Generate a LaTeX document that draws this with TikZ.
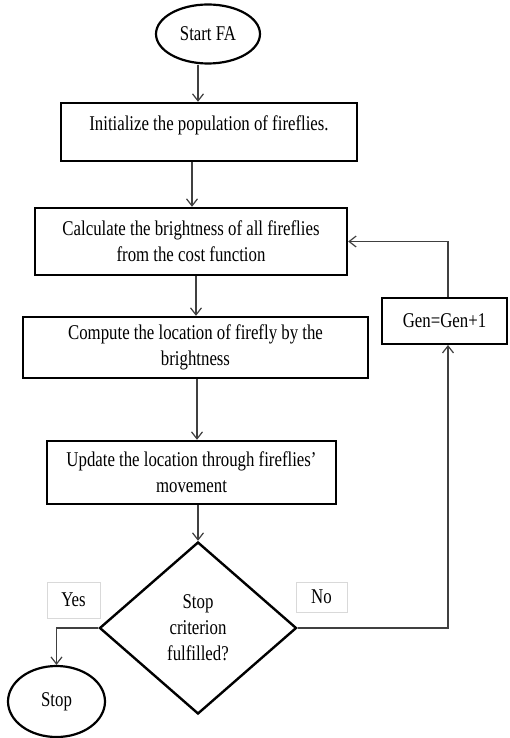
\documentclass[tikz,border=0pt]{standalone}
\usepackage{fontspec}
\setmainfont{Liberation Serif}[FakeStretch=0.8]
\usetikzlibrary{shapes.geometric,arrows.meta,calc}
\begin{document}
\begin{tikzpicture}[x=1pt,y=-1pt,
  txt/.style={font=\fontsize{21}{26}\selectfont},
  box/.style={txt,draw=black,line width=2.4pt,rectangle,inner sep=0pt,align=center},
  term/.style={txt,draw=black,ellipse,line width=2.2pt,inner sep=0pt},
  decision/.style={txt,draw=black,diamond,line width=2.4pt,inner sep=0pt,align=center},
  lab/.style={txt,draw=black!15,line width=0.8pt,inner sep=0pt},
  arr/.style={draw=black!75,line width=1.2pt,-{Straight Barb[length=7pt,width=11pt]}}]
\useasboundingbox (0,0) rectangle (509,738);
\node[term,minimum width=104pt,minimum height=59pt] (start) at (208,34) {Start FA};
\node[box,minimum width=296pt,minimum height=58pt] (init) at (209,132) {Initialize the population of fireflies.\\[-8pt]\mbox{}};
\node[box,minimum width=312pt,minimum height=67pt] (calc) at (191,241.5) {Calculate the brightness of all fireflies\\from the cost function};
\node[box,minimum width=345pt,minimum height=61pt] (comp) at (195.5,347.5) {Compute the location of firefly by the\\brightness};
\node[box,minimum width=289pt,minimum height=63pt] (upd) at (191.5,472.5) {Update the location through fireflies’\\movement};
\node[decision,minimum width=197pt,minimum height=172pt] (dec) at (198,628) {Stop\\criterion\\fulfilled?};
\node[lab,minimum width=53pt,minimum height=36pt] (yes) at (73.5,600) {Yes};
\node[lab,minimum width=51pt,minimum height=30pt] (no) at (321.5,597) {No};
\node[term,minimum width=97pt,minimum height=71pt] (stop) at (56.5,701.5) {Stop};
\node[box,line width=2pt,minimum width=125pt,minimum height=46pt] (gen) at (444.5,321) {Gen=Gen+1};
\draw[arr] ([xshift=-10pt]start.south) -- ([xshift=-11pt]init.north);
\draw[arr] ([xshift=-17pt]init.south) -- ([xshift=1pt]calc.north);
\draw[arr] ([xshift=5pt]calc.south) -- ([xshift=0.5pt]comp.north);
\draw[arr] ([xshift=1.5pt]comp.south) -- ([xshift=5.5pt]upd.north);
\draw[arr] ([xshift=6.5pt]upd.south) -- (dec.north);
\draw[arr] (dec.west) -| (stop.north);
\draw[arr] (dec.east) -| ([xshift=3.5pt]gen.south);
\draw[arr] ([xshift=3.5pt]gen.north) |- (calc.east);
\end{tikzpicture}
\end{document}
